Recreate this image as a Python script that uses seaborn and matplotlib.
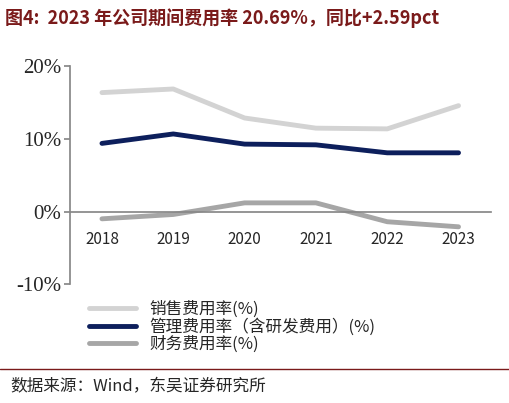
import matplotlib
matplotlib.use("Agg")
import matplotlib.pyplot as plt
import seaborn as sns
import pandas as pd

years = ["2018", "2019", "2020", "2021", "2022", "2023"]
sales = [16.4, 16.9, 12.9, 11.5, 11.4, 14.6]
admin = [9.4, 10.7, 9.3, 9.2, 8.1, 8.1]
finance = [-1.0, -0.4, 1.2, 1.2, -1.4, -2.1]
names = ["销售费用率(%)", "管理费用率（含研发费用）(%)", "财务费用率(%)"]
colors = ["#d3d3d3", "#0d1f5c", "#a6a6a6"]

sns.set_theme(style="white")
plt.rcParams['font.family'] = ['Noto Sans CJK SC', 'DejaVu Sans']

df = pd.DataFrame({"year": years * 3, "v": sales + admin + finance,
                   "s": sum([[n] * 6 for n in names], [])})

fig = plt.figure(figsize=(5.10, 4.03), dpi=100)
ax = fig.add_axes([0.137, 0.295, 0.825, 0.54])
sns.lineplot(data=df, x="year", y="v", hue="s", palette=colors, linewidth=3.5,
             ax=ax, sort=False, legend=True)
ax.set_ylim(-10, 20)
ax.set_yticks([-10, 0, 10, 20])
ax.set_yticklabels(["-10%", "0%", "10%", "20%"], family="Liberation Serif", fontsize=15)
ax.set_xlim(-0.45, 5.45)
for lbl in ax.get_xticklabels():
    lbl.set_family("Liberation Serif"); lbl.set_fontsize(15)
ax.set_xlabel(""); ax.set_ylabel("")
ax.spines["top"].set_visible(False)
ax.spines["right"].set_visible(False)
ax.spines["bottom"].set_position(("data", 0))
for s in ["left", "bottom"]:
    ax.spines[s].set_color("#888888")
ax.tick_params(axis="y", left=True, length=4, color="#888888", pad=2)
ax.tick_params(axis="x", bottom=False, pad=8)
leg = ax.legend(loc="upper left", bbox_to_anchor=(0.03, -0.045), frameon=False,
                fontsize=12, handlelength=2.8, labelspacing=0.0, borderaxespad=0)

fig.text(0.01, 0.955, "图4:  2023 年公司期间费用率 20.69%，同比+2.59pct",
         fontsize=13, fontweight="bold", color="#7a1a1a", va="center")
fig.add_artist(plt.Line2D([0.0, 1.0], [0.085, 0.085], color="#7a1a1a", lw=1))
fig.text(0.02, 0.04, "数据来源：Wind，东吴证券研究所", fontsize=12, va="center")
fig.savefig("out.png", dpi=100)
